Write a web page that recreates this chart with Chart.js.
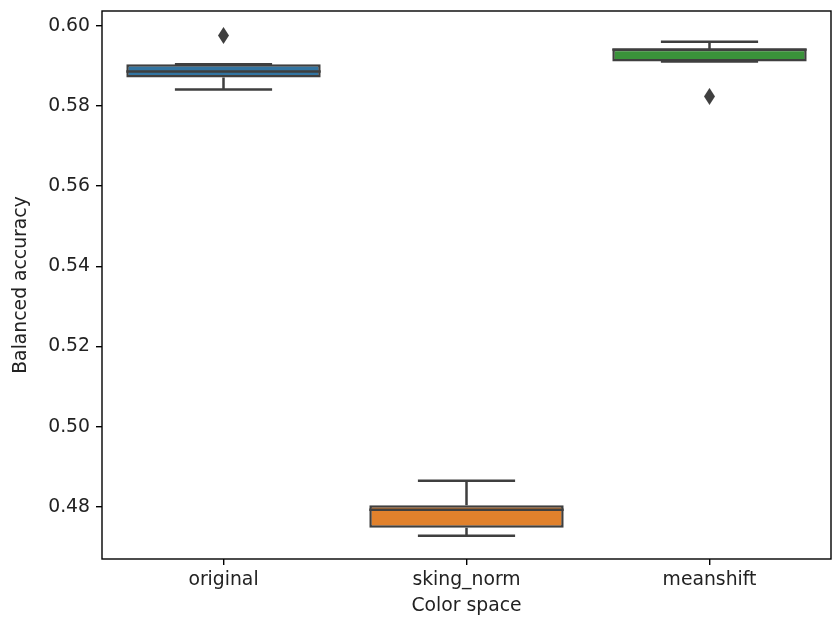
<!DOCTYPE html>
<html>
<head>
<meta charset="utf-8">
<script src="https://cdn.jsdelivr.net/npm/chart.js@4/dist/chart.umd.min.js"></script>
<style>
    html, body { margin: 0; padding: 0; background: #fff; }
    #wrap { width: 838px; height: 622px; }
</style>
</head>
<body>
<div id="wrap"><canvas id="chart" width="838" height="622"></canvas></div>
<script>
// Box plot stats per colour space
const categories = ['original', 'sking_norm', 'meanshift'];
const q1 = [0.5871, 0.4748, 0.5911];
const q3 = [0.5904, 0.4804, 0.5943];
const medians = [0.5886, 0.4793, 0.5941];
const whiskerLow = [0.5841, 0.4728, 0.5911];
const whiskerHigh = [0.5904, 0.4865, 0.5960];
const outliers = [
    { x: 'original', y: 0.5976 },
    { x: 'meanshift', y: 0.5824 }
];
const yTicks = [0.48, 0.50, 0.52, 0.54, 0.56, 0.58, 0.60];

const boxColors = ['#3274a1', '#e1812c', '#3a923a'];
const edgeColor = '#3f3f3f';
const textColor = '#222';
const font = { family: 'DejaVu Sans', size: 18.8 };

// thin diamond marker like matplotlib 'd'
function diamondMarker() {
    const c = document.createElement('canvas');
    c.width = 11; c.height = 17;
    const g = c.getContext('2d');
    g.fillStyle = edgeColor;
    g.beginPath();
    g.moveTo(5.5, 0); g.lineTo(11, 8.5); g.lineTo(5.5, 17); g.lineTo(0, 8.5);
    g.closePath();
    g.fill();
    return c;
}

// whiskers, caps, medians and the axes frame
const boxExtras = {
    id: 'boxExtras',
    afterDatasetsDraw(chart) {
        const { ctx, scales: { x, y } } = chart;
        const bars = chart.getDatasetMeta(0).data;
        ctx.save();
        ctx.strokeStyle = edgeColor;
        ctx.lineWidth = 2.5;
        categories.forEach((c, i) => {
            const cx = x.getPixelForValue(i);
            const half = bars[i].width / 2;
            const cap = half / 2;
            ctx.beginPath();
            // stems
            ctx.moveTo(cx, y.getPixelForValue(q3[i]));
            ctx.lineTo(cx, y.getPixelForValue(whiskerHigh[i]));
            ctx.moveTo(cx, y.getPixelForValue(q1[i]));
            ctx.lineTo(cx, y.getPixelForValue(whiskerLow[i]));
            // caps
            ctx.moveTo(cx - cap, y.getPixelForValue(whiskerHigh[i]));
            ctx.lineTo(cx + cap, y.getPixelForValue(whiskerHigh[i]));
            ctx.moveTo(cx - cap, y.getPixelForValue(whiskerLow[i]));
            ctx.lineTo(cx + cap, y.getPixelForValue(whiskerLow[i]));
            // median
            ctx.moveTo(cx - half, y.getPixelForValue(medians[i]));
            ctx.lineTo(cx + half, y.getPixelForValue(medians[i]));
            ctx.stroke();
        });
        ctx.restore();
    },
    afterDraw(chart) {
        const a = chart.chartArea;
        const ctx = chart.ctx;
        ctx.save();
        ctx.strokeStyle = '#000';
        ctx.lineWidth = 1.4;
        ctx.strokeRect(a.left, a.top, a.right - a.left, a.bottom - a.top);
        ctx.restore();
    }
};

new Chart(document.getElementById('chart'), {
    type: 'bar',
    data: {
        labels: categories,
        datasets: [
            {
                label: 'box',
                data: categories.map((c, i) => [q1[i], q3[i]]),
                backgroundColor: boxColors,
                borderColor: edgeColor,
                borderWidth: 2.5,
                borderSkipped: false,
                barPercentage: 0.8,
                categoryPercentage: 1.0
            },
            {
                type: 'line',
                label: 'outliers',
                data: outliers,
                showLine: false,
                pointStyle: diamondMarker(),
                pointRadius: 6,
                backgroundColor: edgeColor,
                borderColor: edgeColor
            }
        ]
    },
    options: {
        responsive: false,
        animation: false,
        layout: { padding: { top: 11, right: 3, left: 0, bottom: 0 } },
        plugins: {
            legend: { display: false },
            tooltip: { enabled: false }
        },
        scales: {
            x: {
                type: 'category',
                offset: true,
                grid: { display: true, drawOnChartArea: false, drawTicks: true, tickLength: 6, offset: false, color: '#000', lineWidth: 1.4 },
                border: { display: false },
                ticks: { color: textColor, font: font, padding: 4, maxRotation: 0 },
                title: { display: true, text: 'Color space', color: textColor, font: font, padding: { top: 0, bottom: 5 } },
                afterFit: s => { s.height = 63; s.paddingLeft = 0; s.paddingRight = 0; }
            },
            y: {
                min: 0.4670,
                max: 0.6037,
                afterBuildTicks: s => { s.ticks = yTicks.map(v => ({ value: v })); },
                grid: { display: true, drawOnChartArea: false, drawTicks: true, tickLength: 6, color: '#000', lineWidth: 1.4 },
                border: { display: false },
                ticks: { color: textColor, font: font, padding: 6, callback: v => Number(v).toFixed(2) },
                title: { display: true, text: 'Balanced accuracy', color: textColor, font: font, padding: { top: 10, bottom: 0 } },
                afterFit: s => { s.width = 102; s.paddingTop = 0; s.paddingBottom = 0; }
            }
        }
    },
    plugins: [boxExtras]
});
</script>
</body>
</html>
